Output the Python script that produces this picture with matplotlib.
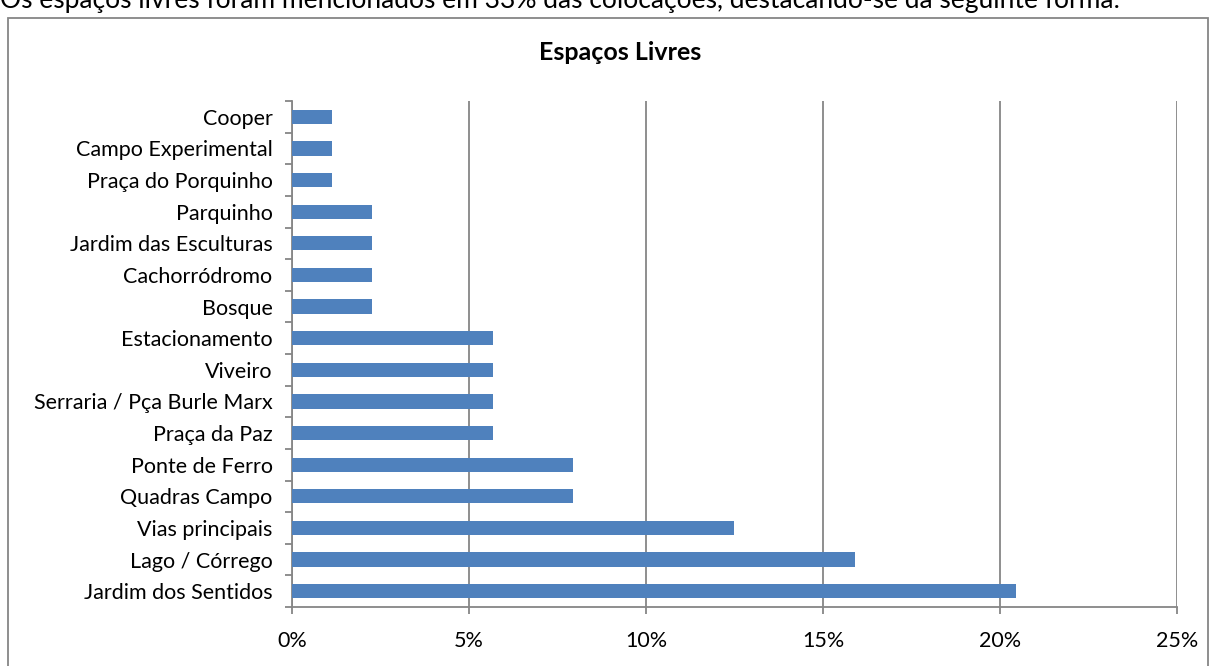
import numpy as np
import matplotlib.pyplot as plt
from matplotlib.patches import Rectangle
from matplotlib.ticker import FuncFormatter, MultipleLocator

# categories from bottom to top
categories = ["Jardim dos Sentidos", "Lago / Córrego", "Vias principais", "Quadras Campo",
              "Ponte de Ferro", "Praça da Paz", "Serraria / Pça Burle Marx", "Viveiro",
              "Estacionamento", "Bosque", "Cachorródromo", "Jardim das Esculturas",
              "Parquinho", "Praça do Porquinho", "Campo Experimental", "Cooper"]
percent = [20.45, 15.91, 12.5, 7.95, 7.95, 5.68, 5.68, 5.68, 5.68,
           2.27, 2.27, 2.27, 2.27, 1.14, 1.14, 1.14]
x_ticks = [0, 5, 10, 15, 20, 25]

plt.rcParams['font.family'] = ['Lato', 'DejaVu Sans']

fig = plt.figure(figsize=(12.16, 6.66), dpi=100)
ax = fig.add_axes([0.2401, 0.0886, 0.7278, 0.7597])

grey = '#868686'
y = np.arange(len(categories))
ax.barh(y, percent, height=0.45, color='#4F81BD', zorder=3)

ax.set_xlim(0, 25)
ax.set_ylim(-0.5, len(categories) - 0.5)
ax.set_xticks(x_ticks)
ax.xaxis.set_major_formatter(FuncFormatter(lambda v, p: f"{v:.0f}%"))
ax.set_yticks(y)
ax.set_yticklabels(categories)
ax.yaxis.set_minor_locator(MultipleLocator(1, offset=0.5))
ax.tick_params(axis='y', which='major', length=0, pad=14, labelsize=15.5)
ax.tick_params(axis='y', which='minor', length=5, width=1.3, color=grey)
ax.tick_params(axis='x', length=5, width=1.3, color=grey, pad=12, labelsize=15.5)

ax.grid(axis='x', color=grey, linewidth=1.3, zorder=0)
for s in ['top', 'right']:
    ax.spines[s].set_visible(False)
for s in ['left', 'bottom']:
    ax.spines[s].set_color(grey)
    ax.spines[s].set_linewidth(1.3)

fig.text(0.51, 1 - 52 / 666, "Espaços Livres", fontsize=18, fontweight='bold',
         ha='center', va='center')

# chart frame and the sentence above it
fig.patches.append(Rectangle((0.0066, -0.1), 0.9868, 1.073, transform=fig.transFigure,
                             fill=False, edgecolor=grey, linewidth=1.3))
fig.text(0.0, 1 - 8 / 666, "Os espaços livres foram mencionados em 33% das colocações, destacando-se da seguinte forma:",
         fontsize=19, va='baseline', ha='left')

fig.savefig('out.png', dpi=100)
